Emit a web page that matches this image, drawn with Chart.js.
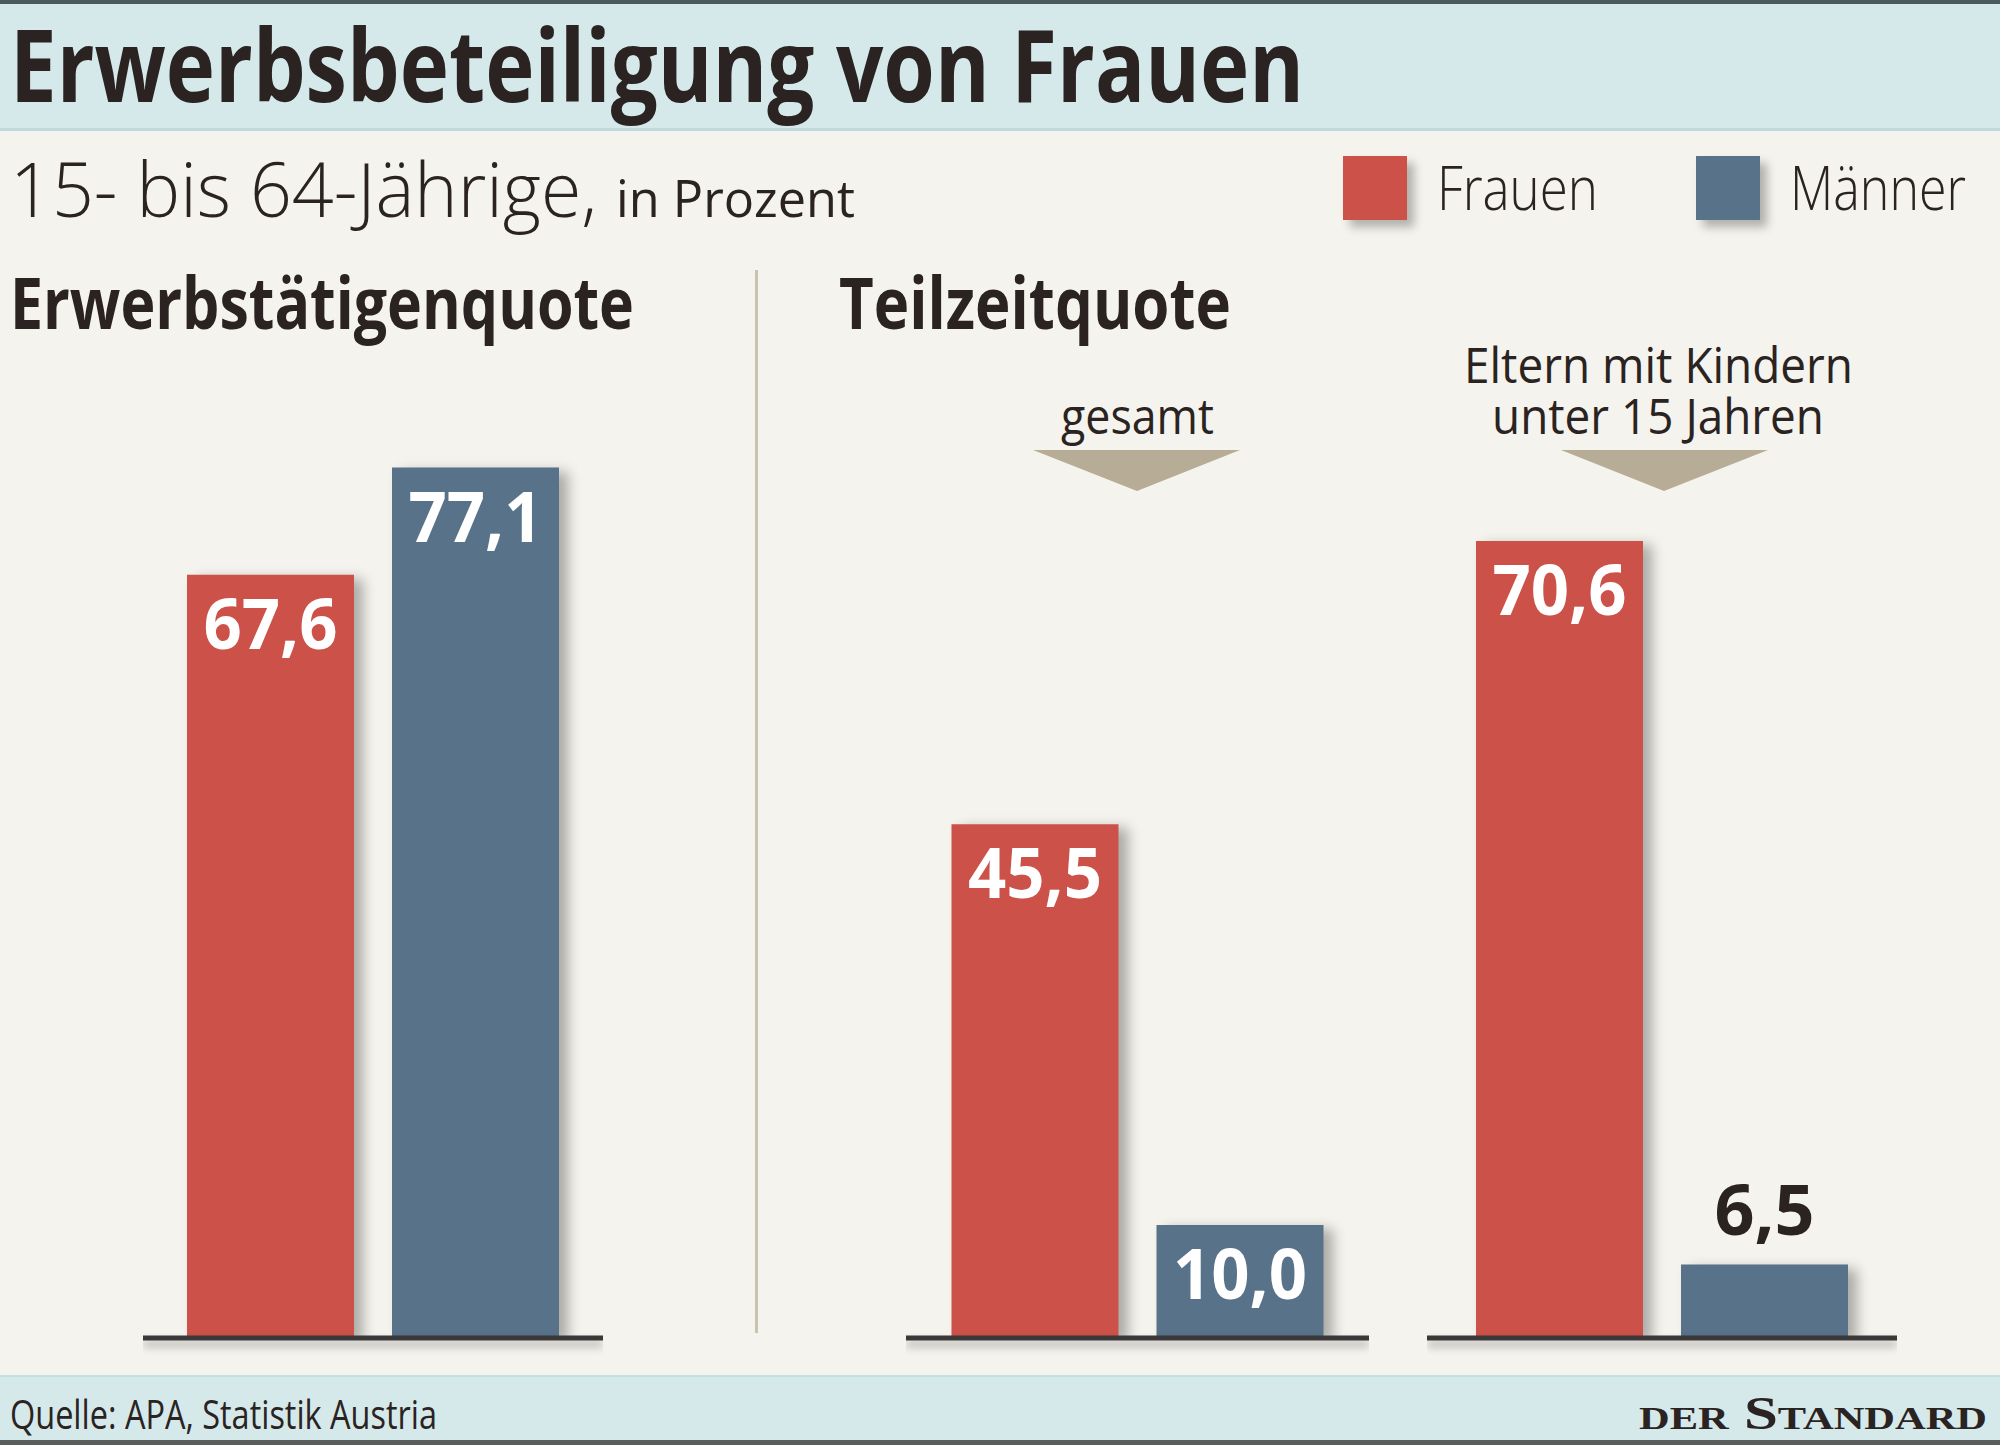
<!DOCTYPE html>
<html><head><meta charset="utf-8">
<script src="https://cdn.jsdelivr.net/npm/chart.js@4/dist/chart.umd.min.js"></script>
<style>
html,body{margin:0;padding:0;}
body{width:2000px;height:1445px;position:relative;overflow:hidden;background:#f5f3ed;font-family:"Open Sans",sans-serif;color:#2a2321;}
.band{position:absolute;left:0;width:2000px;background:#d5e9eb;}
.t{position:absolute;white-space:nowrap;line-height:1;transform-origin:0 0;}
canvas{position:absolute;}
.sq{position:absolute;width:64px;height:64px;box-shadow:7px 7px 9px rgba(0,0,0,0.28);}
</style></head>
<body>
<div style="position:absolute;left:0;top:0;width:2000px;height:4px;background:#4b5a5c"></div>
<div class="band" style="top:4px;height:124px;border-bottom:3px solid #bfd9dc"></div>
<div class="band" style="top:1375px;height:65px;border-top:2px solid #c2dfe2"></div>
<div style="position:absolute;left:0;top:1440px;width:2000px;height:5px;background:#5a5d5d"></div>
<div style="position:absolute;left:755px;top:270px;width:3px;height:1063px;background:#cbc2b0"></div>
<svg style="position:absolute;left:0;top:0" width="2000" height="1445">
<polygon points="1033,450 1240,450 1137,491" fill="#b7ac96"/>
<polygon points="1561,450 1768,450 1664,491" fill="#b7ac96"/>
</svg>
<div class="sq" style="left:1343px;top:156px;background:#cc5148"></div>
<div class="sq" style="left:1696px;top:156px;background:#577289"></div>

<div class="t" data-x="10" data-b="102" data-w="1294" style="font-size:100px;font-weight:700">Erwerbsbeteiligung von Frauen</div>
<div class="t" data-x="10" data-b="217" data-w="587" style="font-size:76px;font-weight:300">15- bis 64-Jährige,</div>
<div class="t" data-x="616" data-b="217" data-w="239" style="font-size:52px;font-weight:400">in Prozent</div>
<div class="t" data-x="1437" data-b="210" data-w="161" style="font-size:60px;font-weight:300">Frauen</div>
<div class="t" data-x="1790" data-b="210" data-w="176" style="font-size:60px;font-weight:300">Männer</div>
<div class="t" data-x="10" data-b="329" data-w="624" style="font-size:72px;font-weight:700">Erwerbstätigenquote</div>
<div class="t" data-x="839" data-b="329" data-w="392" style="font-size:72px;font-weight:700">Teilzeitquote</div>
<div class="t" data-c="1137" data-b="434" data-w="153" style="font-size:50px;font-weight:400">gesamt</div>
<div class="t" data-c="1658" data-b="383" data-w="389" style="font-size:50px;font-weight:400">Eltern mit Kindern</div>
<div class="t" data-c="1658" data-b="434" data-w="332" style="font-size:50px;font-weight:400">unter 15 Jahren</div>
<div class="t" data-x="10" data-b="1429" data-w="427" style="font-size:40px;font-weight:400">Quelle: APA, Statistik Austria</div>
<div class="t" data-r="1987" data-b="1429" data-w="348" style="font-size:46px;font-weight:700;font-family:'Liberation Serif',serif;font-variant:small-caps;">der Standard</div>

<canvas id="c0"></canvas><canvas id="c1"></canvas><canvas id="c2"></canvas>

<script>
const categories = ['Erwerbstätigenquote', 'Teilzeitquote gesamt', 'Teilzeitquote Eltern mit Kindern unter 15 Jahren'];
const seriesNames = ['Frauen', 'Männer'];
const frauen = [67.6, 45.5, 70.6];
const maenner = [77.1, 10.0, 6.5];

const colors = ['#cc5148', '#577289'];
const panels = [ {left:143, width:460}, {left:906, width:463}, {left:1427, width:470} ];
const chartTop = 209, plotH = 1129, padB = 22;

const fmt = v => v.toFixed(1).replace('.', ',');

const barPlugin = {
  id: 'barDeco',
  beforeDatasetsDraw(chart){
    const ctx = chart.ctx;
    ctx.save();
    ctx.shadowColor = 'rgba(0,0,0,0.30)';
    ctx.shadowOffsetX = 9; ctx.shadowOffsetY = 4; ctx.shadowBlur = 12;
  },
  afterDatasetsDraw(chart){
    const ctx = chart.ctx;
    ctx.restore();
    const ys = chart.scales.y, a = chart.chartArea;
    const y0 = ys.getPixelForValue(0);
    ctx.save();
    ctx.shadowColor = 'rgba(0,0,0,0.30)'; ctx.shadowOffsetY = 6; ctx.shadowBlur = 9;
    ctx.strokeStyle = '#3a3838'; ctx.lineWidth = 5;
    ctx.beginPath(); ctx.moveTo(a.left, y0); ctx.lineTo(a.right, y0); ctx.stroke();
    ctx.restore();
    ctx.save();
    ctx.font = '700 70px "Open Sans", sans-serif';
    ctx.textAlign = 'center'; ctx.textBaseline = 'alphabetic';
    chart.data.datasets.forEach((ds, di) => {
      const meta = chart.getDatasetMeta(di);
      meta.data.forEach((bar, i) => {
        const v = ds.data[i];
        const h = bar.base - bar.y;
        const txt = fmt(v);
        const w = ctx.measureText(txt).width;
        const sx = Math.min(1, 134 / w);
        let by, col;
        if (h > 95) { by = bar.y + 74; col = '#ffffff'; }
        else { by = bar.y - 30; col = '#2a2321'; }
        ctx.save();
        ctx.translate(bar.x, by);
        ctx.scale(sx, 1);
        ctx.fillStyle = col;
        ctx.fillText(txt, 0, 0);
        ctx.restore();
      });
    });
    ctx.restore();
  }
};

panels.forEach((p, i) => {
  const cv = document.getElementById('c' + i);
  cv.style.left = p.left + 'px';
  cv.style.top = chartTop + 'px';
  cv.width = p.width; cv.height = plotH + padB;
  cv.style.width = p.width + 'px'; cv.style.height = (plotH + padB) + 'px';
  new Chart(cv, {
    type: 'bar',
    data: {
      labels: [categories[i]],
      datasets: [
        { label: seriesNames[0], data: [frauen[i]], backgroundColor: colors[0], borderWidth: 0 },
        { label: seriesNames[1], data: [maenner[i]], backgroundColor: colors[1], borderWidth: 0 }
      ]
    },
    options: {
      responsive: false, animation: false, devicePixelRatio: 1,
      layout: { padding: { top: 0, bottom: padB, left: 0, right: 0 } },
      datasets: { bar: { categoryPercentage: 410 / p.width, barPercentage: 167 / 205 } },
      plugins: { legend: { display: false }, tooltip: { enabled: false } },
      scales: {
        x: { display: false },
        y: { display: false, min: 0, max: 100 }
      }
    },
    plugins: [barPlugin]
  });
});

function fitText(){
  document.querySelectorAll('.t').forEach(el => {
    el.style.transform = 'none'; el.style.top = '0px'; el.style.left = '0px';
    let m = el.querySelector('.mk');
    if (!m) { m = document.createElement('span'); m.className = 'mk'; m.style.cssText = 'display:inline-block;width:0;height:0;'; el.appendChild(m); }
    const r = el.getBoundingClientRect();
    const base = m.getBoundingClientRect().top - r.top;
    const nat = r.width;
    const w = parseFloat(el.dataset.w);
    const sx = w / nat;
    let x;
    if (el.dataset.x !== undefined) x = parseFloat(el.dataset.x);
    else if (el.dataset.c !== undefined) x = parseFloat(el.dataset.c) - w / 2;
    else x = parseFloat(el.dataset.r) - w;
    el.style.left = x + 'px';
    el.style.top = (parseFloat(el.dataset.b) - base) + 'px';
    el.style.transform = 'scaleX(' + sx + ')';
  });
}
fitText();
if (document.fonts && document.fonts.ready) document.fonts.ready.then(fitText);
</script>
</body></html>
